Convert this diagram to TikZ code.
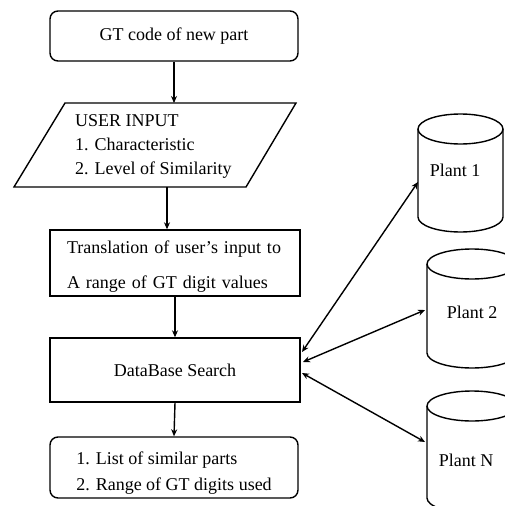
\documentclass[tikz,border=0pt]{standalone}
\usepackage{fontspec}
\setmainfont{Liberation Serif}
\usetikzlibrary{arrows.meta}
\begin{document}
\begin{tikzpicture}[x=1pt,y=-1pt,
  every node/.style={font=\fontsize{18}{24}\selectfont},
  line/.style={line width=1.4pt},
  flow/.style={line, -{Stealth[length=7pt,width=6pt]}},
  both/.style={line, {Stealth[length=7pt,width=6pt]}-{Stealth[length=7pt,width=6pt]}},
  box/.style={draw, line width=1.4pt, rectangle, minimum width=250pt, inner sep=0pt},
  term/.style={box, rounded corners=8pt},
  label/.style={inner sep=0pt},
]
\useasboundingbox (0,0) rectangle (505,506);

% main flow
\node[term, minimum width=248pt, minimum height=50pt] (gt) at (174,36) {GT code of new part};

\draw[line] (65,103) -- (296,103) -- (246,187) -- (14,187) -- cycle;
\coordinate (inTop) at (174,103);
\coordinate (inBot) at (167,187);
\node[label, anchor=west, align=left] (uin) at (75,146)
  {USER INPUT\\1. Characteristic\\2. Level of Similarity};

\node[box, minimum height=66pt, text width=216pt, inner xsep=17pt, align=left,
      font=\fontsize{18}{35}\selectfont] (tr) at (175,263)
  {\rule{0pt}{20pt}Translation of user’s input to\\A range of GT digit values};

\node[box, minimum height=64pt] (db) at (175,370) {DataBase Search};

\node[term, minimum width=248pt, minimum height=61pt, align=left,
      font=\fontsize{18}{26}\selectfont] (res) at (174,467.5)
  {\rule{0pt}{24pt}1. List of similar parts\\2. Range of GT digits used};

\draw[flow] (gt.south) -- (inTop);
\draw[flow] (inBot) -- (inBot |- tr.north);
\draw[flow] (tr.south) -- (db.north);
\draw[flow] (db.south) -- (res.north);

% plant databases
\draw[line] (418,129) -- (418,217) arc[start angle=180, end angle=0, x radius=42.5, y radius=15] -- (503,129);
\draw[line] (460.5,129) ellipse [x radius=42.5, y radius=15];
\node[label] (p1) at (455,170) {Plant 1};

\draw[line] (427,264) -- (427,353) arc[start angle=180, end angle=0, x radius=45, y radius=15] -- (517,264);
\draw[line] (472,264) ellipse [x radius=45, y radius=15];
\node[label] (p2) at (472,312) {Plant 2};

\draw[line] (427,406) -- (427,498) arc[start angle=180, end angle=0, x radius=45, y radius=15] -- (517,406);
\draw[line] (472,406) ellipse [x radius=45, y radius=15];
\node[label] (pn) at (466,460) {Plant N};

\coordinate (d1) at (302,352);
\coordinate (d2) at (303,362);
\coordinate (d3) at (302,373);
\coordinate (c1) at (418,182);
\coordinate (c2) at (425,310);
\coordinate (c3) at (425,442);
\draw[both] (d1) -- (c1);
\draw[both] (d2) -- (c2);
\draw[both] (d3) -- (c3);
\end{tikzpicture}
\end{document}
